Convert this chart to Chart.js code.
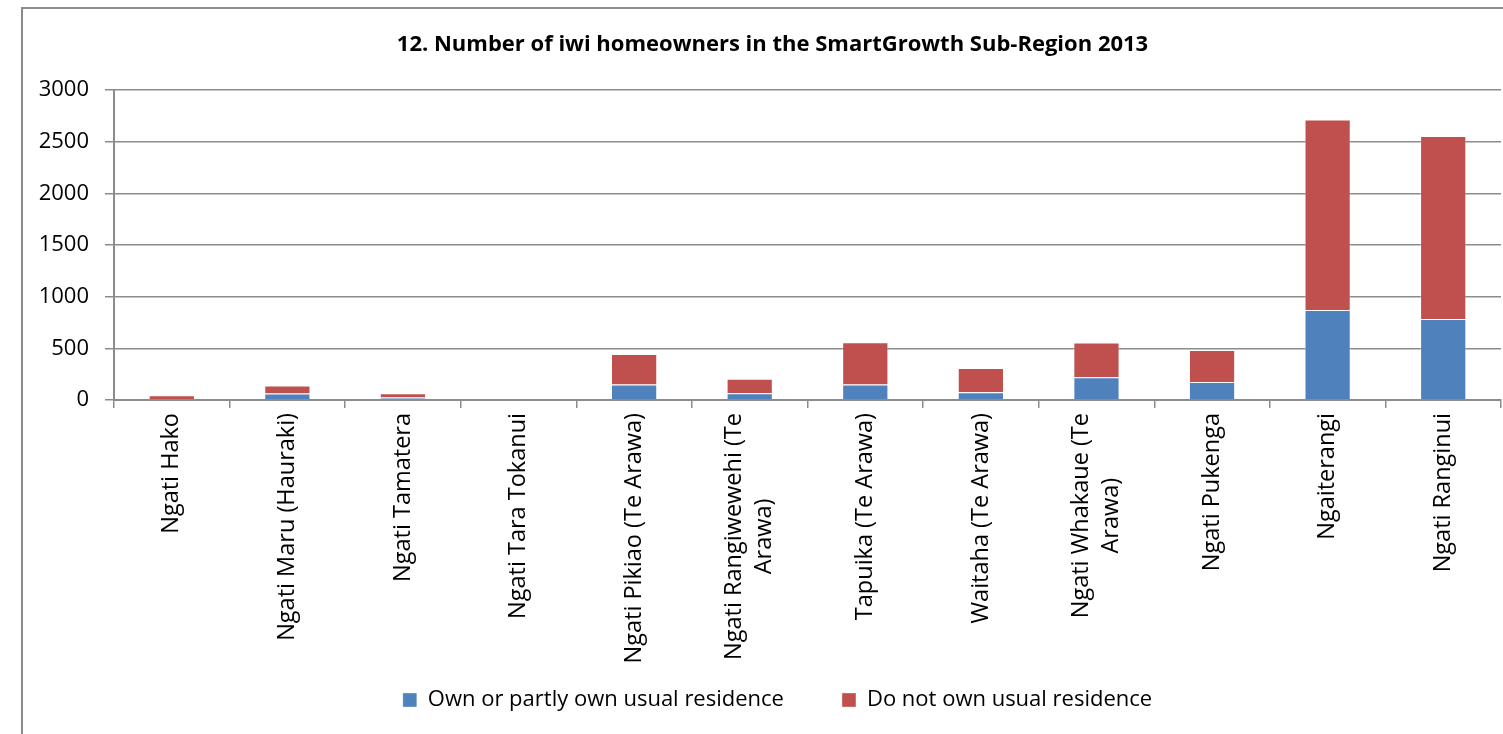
<!DOCTYPE html>
<html>
<head>
<meta charset="utf-8">
<script src="https://cdn.jsdelivr.net/npm/chart.js@4.4.1/dist/chart.umd.min.js"></script>
<style>
  html, body { margin: 0; padding: 0; background: #fff; }
  #wrap { position: relative; width: 1503px; height: 734px; overflow: hidden; }
  #frame { position: absolute; left: 21px; top: 7px; width: 1500px; height: 760px;
           border-left: 2px solid #8c8c8c; border-top: 2px solid #8c8c8c; box-sizing: border-box; }
  #c { position: absolute; left: 0; top: 0; }
</style>
</head>
<body>
<div id="wrap">
  <div id="frame"></div>
  <canvas id="c" width="1503" height="734"></canvas>
</div>
<script>
const chartTitle = '12. Number of iwi homeowners in the SmartGrowth Sub-Region 2013';
const categories = [
  'Ngati Hako',
  'Ngati Maru (Hauraki)',
  'Ngati Tamatera',
  'Ngati Tara Tokanui',
  'Ngati Pikiao (Te Arawa)',
  ['Ngati Rangiwewehi (Te', 'Arawa)'],
  'Tapuika (Te Arawa)',
  'Waitaha (Te Arawa)',
  ['Ngati Whakaue (Te', 'Arawa)'],
  'Ngati Pukenga',
  'Ngaiterangi',
  'Ngati Ranginui'
];
const seriesNames = ['Own or partly own usual residence', 'Do not own usual residence'];
const ownValues    = [9, 63, 24, 0, 150, 66, 150, 75, 220, 175, 870, 785];
const notOwnValues = [36, 78, 42, 0, 295, 140, 408, 234, 337, 310, 1845, 1770];
const yTicks = [0, 500, 1000, 1500, 2000, 2500, 3000];

const FONT = "'Open Sans', 'Liberation Sans', sans-serif";
const GRID = '#8c8c8c';

const xLabelPlugin = {
  id: 'xLabels',
  afterLayout(chart) {
    // shift legend and title to the centre the reference uses
    if (chart.legend) { chart.legend.left += 27; chart.legend.right += 27; }
    if (chart.titleBlock) { chart.titleBlock.left += 44; }
  },
  afterDraw(chart) {
    const scale = chart.scales.x;
    const ctx = chart.ctx;
    ctx.save();
    ctx.font = '23.5px ' + FONT;
    ctx.fillStyle = '#000';
    ctx.textBaseline = 'middle';
    ctx.textAlign = 'center';
    const lineH = 30;
    const top = scale.top + 13;
    categories.forEach((lab, i) => {
      const lines = Array.isArray(lab) ? lab : [lab];
      const x = scale.getPixelForTick(i);
      const maxW = Math.max(...lines.map(l => ctx.measureText(l).width));
      ctx.save();
      ctx.translate(x, top);
      ctx.rotate(-Math.PI / 2);
      lines.forEach((l, j) => {
        const off = (j - (lines.length - 1) / 2) * lineH;
        ctx.fillText(l, -maxW / 2, off);
      });
      ctx.restore();
    });
    ctx.restore();
  }
};

function draw() {
  Chart.defaults.font.family = FONT;
  Chart.defaults.color = '#000';
  new Chart(document.getElementById('c'), {
    type: 'bar',
    data: {
      labels: categories,
      datasets: [
        { label: seriesNames[0], data: ownValues, backgroundColor: '#4F81BD',
          borderColor: 'rgba(255,255,255,0.35)', borderWidth: 1 },
        { label: seriesNames[1], data: notOwnValues, backgroundColor: '#C0504D',
          borderColor: 'rgba(255,255,255,0.35)', borderWidth: 1 }
      ]
    },
    options: {
      responsive: false,
      animation: false,
      devicePixelRatio: 1,
      layout: { padding: { left: 0, right: 2, top: 0, bottom: 13 } },
      datasets: { bar: { barPercentage: 1, categoryPercentage: 0.4 } },
      plugins: {
        title: {
          display: true, text: chartTitle, color: '#000',
          font: { size: 22, weight: 'bold', family: FONT, lineHeight: 1.2 },
          padding: { top: 32, bottom: 31.6 }
        },
        legend: {
          position: 'bottom',
          labels: {
            boxWidth: 14, boxHeight: 14, padding: 58, color: '#000',
            font: { size: 22, family: FONT }
          }
        },
        tooltip: { enabled: false }
      },
      scales: {
        x: {
          stacked: true,
          grid: { display: true, drawOnChartArea: false, drawTicks: true, tickLength: 8, color: GRID, lineWidth: 1.5, offset: true },
          border: { display: true, color: GRID, width: 2 },
          ticks: { display: false },
          afterFit(s) { s.height = 231; }
        },
        y: {
          stacked: true,
          min: 0, max: 3000,
          afterBuildTicks(s) { s.ticks = yTicks.map(v => ({ value: v })); },
          grid: { color: GRID, lineWidth: 1.5, tickLength: 9 },
          border: { display: true, color: GRID, width: 2 },
          ticks: { padding: 16, font: { size: 22, family: FONT }, color: '#000', callback: v => String(v) },
          afterFit(s) { s.width = 114; }
        }
      }
    },
    plugins: [xLabelPlugin]
  });
}

const fontLoads = ['22px "Open Sans"', 'bold 22px "Open Sans"'].map(f => document.fonts.load(f).catch(() => null));
Promise.all(fontLoads).then(draw, draw);
</script>
</body>
</html>
